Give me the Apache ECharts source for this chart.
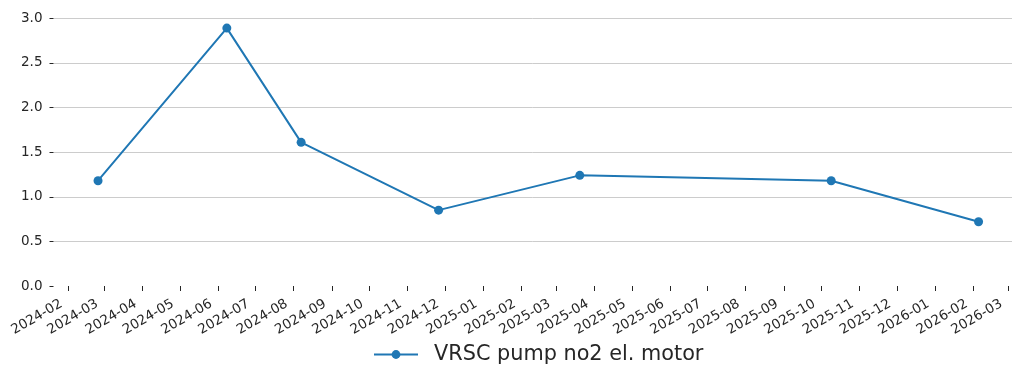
<!DOCTYPE html>
<html>
<head>
<meta charset="utf-8">
<script src="https://cdn.jsdelivr.net/npm/echarts@6/dist/echarts.min.js"></script>
<style>
  html, body { margin: 0; padding: 0; background: #ffffff; }
  #chart { width: 1012px; height: 367px; }
</style>
</head>
<body>
<div id="chart"></div>
<script>
// Measurement dates and readings
const seriesName = 'VRSC pump no2 el. motor';
const measureDates = ['2024-02-25', '2024-06-08', '2024-08-07', '2024-11-26', '2025-03-20', '2025-10-09', '2026-02-05'];
const measureValues = [1.18, 2.89, 1.61, 0.85, 1.24, 1.18, 0.72];

// Month tick labels along the date axis
const monthTicks = [
  '2024-02', '2024-03', '2024-04', '2024-05', '2024-06', '2024-07', '2024-08',
  '2024-09', '2024-10', '2024-11', '2024-12', '2025-01', '2025-02', '2025-03',
  '2025-04', '2025-05', '2025-06', '2025-07', '2025-08', '2025-09', '2025-10',
  '2025-11', '2025-12', '2026-01', '2026-02', '2026-03'
];

// Value axis ticks
const yMin = 0, yMax = 3.0, yStep = 0.5;

const toUTC = s => {
  const p = s.split('-').map(Number);
  return Date.UTC(p[0], p[1] - 1, p[2] || 1);
};
const pad2 = n => (n < 10 ? '0' : '') + n;
const monthLabel = v => {
  const d = new Date(v);
  return d.getUTCFullYear() + '-' + pad2(d.getUTCMonth() + 1);
};

const tickValues = monthTicks.map(m => toUTC(m));
const points = measureDates.map((d, i) => [toUTC(d), measureValues[i]]);

const textColor = '#262626';
const font = 'DejaVu Sans';

const chart = echarts.init(document.getElementById('chart'), null, { renderer: 'canvas' });
chart.setOption({
  animation: false,
  backgroundColor: '#ffffff',
  grid: {
    left: 53.5, right: 0, top: 18.3, bottom: 81,
    containLabel: false,
    outerBoundsMode: 'none'
  },
  legend: {
    data: [seriesName],
    left: 373,
    top: 344,
    padding: 0,
    itemWidth: 44,
    itemHeight: 11,
    textStyle: {
      fontFamily: font,
      fontSize: 20.8,
      color: textColor,
      padding: [0, 0, 0, 11]
    }
  },
  xAxis: {
    type: 'value',
    min: Date.UTC(2024, 0, 20, 1),
    max: Date.UTC(2026, 2, 4, 0),
    scale: true,
    axisLine: { show: false },
    splitLine: { show: false },
    axisTick: {
      show: true,
      customValues: tickValues,
      length: 5,
      lineStyle: { color: textColor, width: 1 }
    },
    axisLabel: {
      show: true,
      customValues: tickValues,
      rotate: 30,
      margin: 13,
      padding: [0, 8, 0, 0],
      fontFamily: font,
      fontSize: 13.5,
      color: textColor,
      hideOverlap: false,
      showMinLabel: true,
      showMaxLabel: true,
      formatter: v => monthLabel(v)
    }
  },
  yAxis: {
    type: 'value',
    min: yMin,
    max: yMax,
    interval: yStep,
    axisLine: { show: false },
    axisTick: {
      show: true,
      length: 4,
      lineStyle: { color: textColor, width: 1 }
    },
    axisLabel: {
      margin: 11,
      fontFamily: font,
      fontSize: 13.5,
      color: textColor,
      formatter: v => v.toFixed(1)
    },
    splitLine: {
      show: true,
      showMinLine: false,
      lineStyle: { color: '#cccccc', width: 1 }
    }
  },
  series: [{
    name: seriesName,
    type: 'line',
    data: points,
    symbol: 'circle',
    symbolSize: 9,
    showAllSymbol: true,
    lineStyle: { color: '#1f77b4', width: 2 },
    itemStyle: { color: '#1f77b4' },
    emphasis: { disabled: true }
  }]
});
</script>
</body>
</html>
